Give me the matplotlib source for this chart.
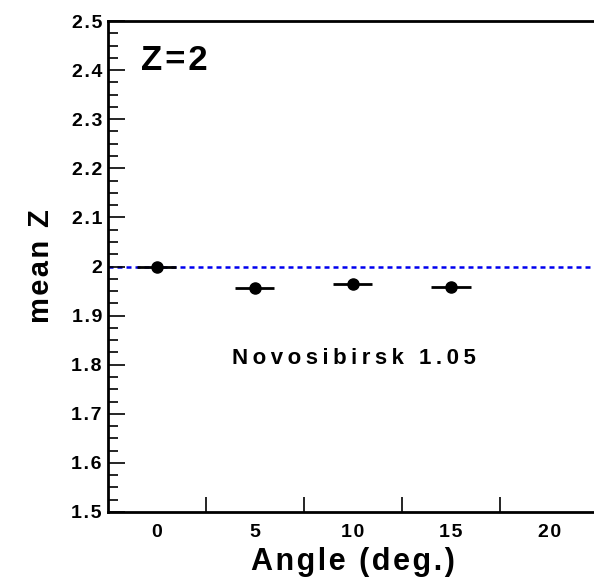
import matplotlib.pyplot as plt
from matplotlib.ticker import MultipleLocator, FixedLocator

plt.rcParams['font.family'] = ['Liberation Sans', 'DejaVu Sans']
plt.rcParams['font.weight'] = 'bold'

angles = [0, 5, 10, 15]
mean_z = [2.0, 1.957, 1.965, 1.959]
angle_err = [1, 1, 1, 1]
ref_z = 2.0
x_labels = ['0', '5', '10', '15', '20']
x_label_pos = [0, 5, 10, 15, 20]
y_ticks = [1.5, 1.6, 1.7, 1.8, 1.9, 2.0, 2.1, 2.2, 2.3, 2.4, 2.5]
y_labels = ['1.5', '1.6', '1.7', '1.8', '1.9', '2', '2.1', '2.2', '2.3', '2.4', '2.5']

HAIR = '\u200a'
THIN = '\u2009'


def spaced(s, sep=HAIR):
    return sep.join(s)


fig = plt.figure(figsize=(5.94, 5.84), dpi=100)
ax = fig.add_axes([0.181, 0.1233, 0.826, 0.8407])

ax.axhline(ref_z, color='#0000ee', lw=1.8, ls=(0, (2, 1.6)), zorder=1)
ax.errorbar(angles, mean_z, xerr=angle_err, fmt='o', color='black',
            ms=8, elinewidth=2, capsize=0, zorder=3)

ax.set_xlim(-2.5, 22.5)
ax.set_ylim(1.5, 2.5)

# bin edges as ticks, bin centres as labels
ax.xaxis.set_major_locator(FixedLocator([2.5, 7.5, 12.5, 17.5]))
ax.xaxis.set_major_formatter(plt.NullFormatter())
ax.xaxis.set_minor_locator(FixedLocator(x_label_pos))
ax.set_xticklabels([spaced(s) for s in x_labels], minor=True)
ax.tick_params(axis='x', which='major', direction='in', length=11, width=1.2)
ax.tick_params(axis='x', which='minor', length=0, pad=9, labelsize=14)

ax.set_yticks(y_ticks)
ax.set_yticklabels([spaced(s) for s in y_labels])
ax.yaxis.set_minor_locator(MultipleLocator(0.025))
ax.tick_params(axis='y', which='major', direction='in', length=12, width=1.2,
               labelsize=14, pad=4)
ax.tick_params(axis='y', which='minor', direction='in', length=7, width=1.2)

for side in ['left', 'bottom', 'top']:
    ax.spines[side].set_linewidth(2)
ax.spines['right'].set_visible(False)

ax.set_xlabel(spaced('Angle (deg.)'), fontsize=22, fontweight='bold', labelpad=4)
ax.set_ylabel(spaced('mean Z'), fontsize=21, fontweight='bold', labelpad=12)

ax.text(0.068, 0.900, spaced('Z=2'), transform=ax.transAxes, fontsize=25,
        fontweight='bold')
ax.text(0.254, 0.301, spaced('Novosibirsk 1.05', THIN), transform=ax.transAxes,
        fontsize=16, fontweight='bold')

fig.savefig('out.png', dpi=100)
